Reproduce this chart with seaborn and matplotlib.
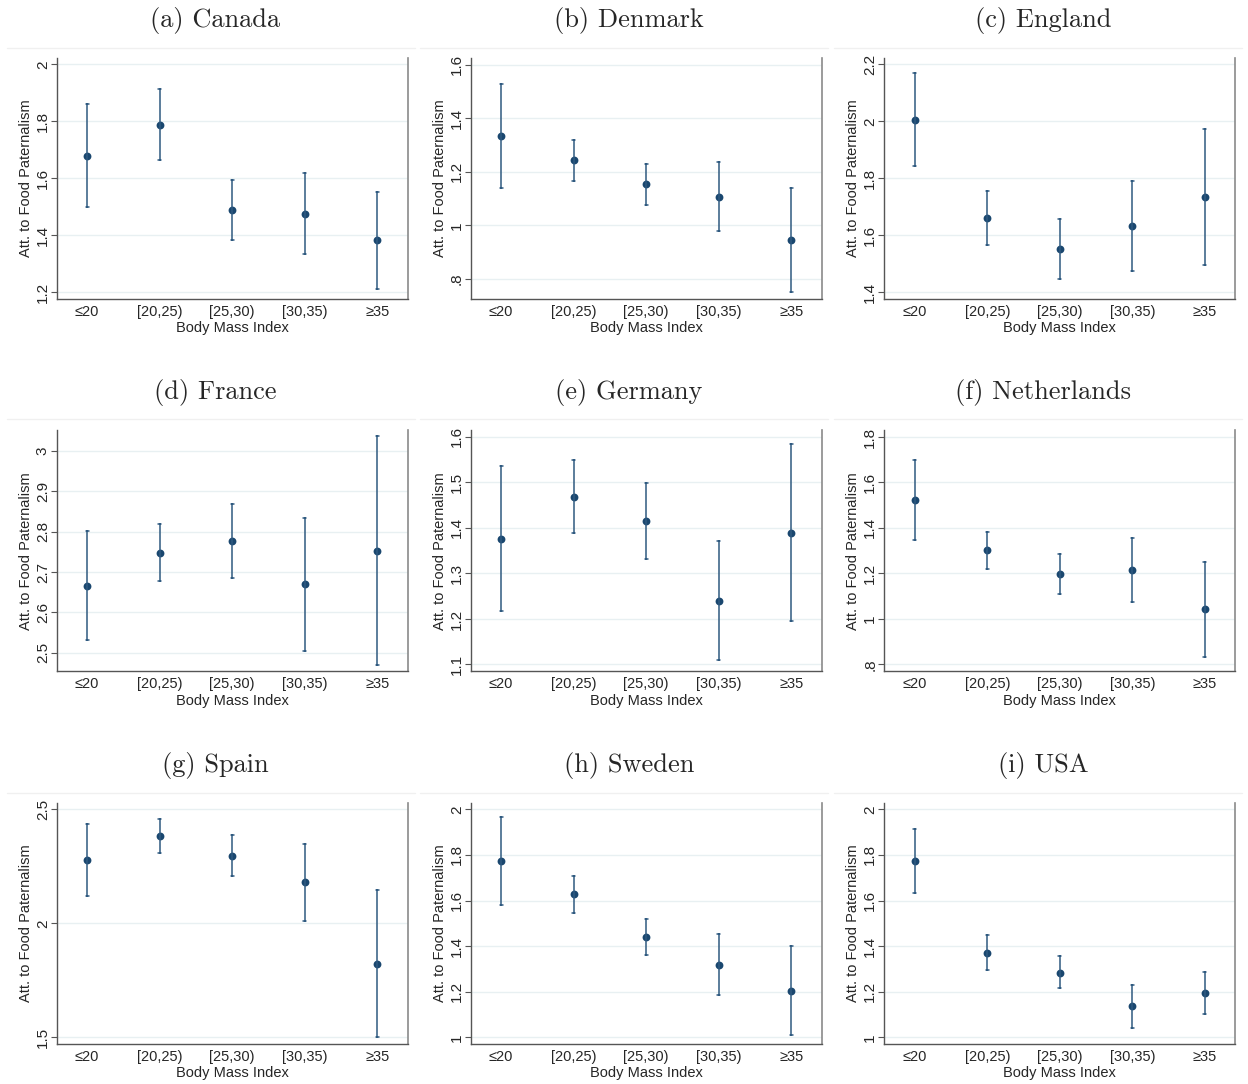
import numpy as np
import pandas as pd
import matplotlib
matplotlib.use("Agg")
import matplotlib.pyplot as plt
from matplotlib.lines import Line2D
import seaborn as sns

W, H = 1248, 1084

bmi_groups = ["≤20", "[20,25)", "[25,30)", "[30,35)", "≥35"]
titles = ["(a) Canada", "(b) Denmark", "(c) England", "(d) France", "(e) Germany",
          "(f) Netherlands", "(g) Spain", "(h) Sweden", "(i) USA"]

# point estimates
canada_mean = [1.680, 1.787, 1.488, 1.476, 1.384]
denmark_mean = [1.336, 1.245, 1.154, 1.107, 0.945]
england_mean = [2.006, 1.660, 1.552, 1.632, 1.735]
france_mean = [2.666, 2.748, 2.777, 2.670, 2.752]
germany_mean = [1.376, 1.468, 1.416, 1.240, 1.389]
netherlands_mean = [1.524, 1.302, 1.198, 1.214, 1.042]
spain_mean = [2.278, 2.383, 2.295, 2.180, 1.823]
sweden_mean = [1.773, 1.627, 1.439, 1.319, 1.205]
usa_mean = [1.773, 1.371, 1.284, 1.136, 1.194]

# confidence interval bounds
canada_lo = [1.498, 1.665, 1.384, 1.335, 1.213]
canada_hi = [1.861, 1.912, 1.593, 1.619, 1.552]
denmark_lo = [1.141, 1.166, 1.076, 0.979, 0.751]
denmark_hi = [1.528, 1.318, 1.230, 1.236, 1.139]
england_lo = [1.842, 1.566, 1.446, 1.474, 1.496]
england_hi = [2.168, 1.754, 1.658, 1.791, 1.973]
france_lo = [2.532, 2.677, 2.686, 2.505, 2.470]
france_hi = [2.801, 2.818, 2.869, 2.835, 3.036]
germany_lo = [1.217, 1.388, 1.332, 1.110, 1.195]
germany_hi = [1.536, 1.549, 1.499, 1.371, 1.584]
netherlands_lo = [1.349, 1.219, 1.110, 1.073, 0.832]
netherlands_hi = [1.697, 1.384, 1.286, 1.356, 1.250]
spain_lo = [2.118, 2.308, 2.206, 2.010, 1.503]
spain_hi = [2.437, 2.459, 2.387, 2.349, 2.145]
sweden_lo = [1.582, 1.547, 1.363, 1.184, 1.012]
sweden_hi = [1.965, 1.709, 1.518, 1.455, 1.399]
usa_lo = [1.635, 1.297, 1.215, 1.042, 1.101]
usa_hi = [1.912, 1.447, 1.355, 1.230, 1.285]

# y axis ticks / limits per panel
canada_ticks = [1.2, 1.4, 1.6, 1.8, 2.0]
denmark_ticks = [0.8, 1.0, 1.2, 1.4, 1.6]
england_ticks = [1.4, 1.6, 1.8, 2.0, 2.2]
france_ticks = [2.5, 2.6, 2.7, 2.8, 2.9, 3.0]
germany_ticks = [1.1, 1.2, 1.3, 1.4, 1.5, 1.6]
netherlands_ticks = [0.8, 1.0, 1.2, 1.4, 1.6, 1.8]
spain_ticks = [1.5, 2.0, 2.5]
sweden_ticks = [1.0, 1.2, 1.4, 1.6, 1.8, 2.0]
usa_ticks = [1.0, 1.2, 1.4, 1.6, 1.8, 2.0]

canada_ylim = (1.177, 2.023)
denmark_ylim = (0.725, 1.627)
england_ylim = (1.377, 2.223)
france_ylim = (2.454, 3.052)
germany_ylim = (1.085, 1.615)
netherlands_ylim = (0.769, 1.831)
spain_ylim = (1.471, 2.529)
sweden_ylim = (0.971, 2.029)
usa_ylim = (0.971, 2.029)

panels = [
    (canada_mean, canada_lo, canada_hi, canada_ticks, canada_ylim),
    (denmark_mean, denmark_lo, denmark_hi, denmark_ticks, denmark_ylim),
    (england_mean, england_lo, england_hi, england_ticks, england_ylim),
    (france_mean, france_lo, france_hi, france_ticks, france_ylim),
    (germany_mean, germany_lo, germany_hi, germany_ticks, germany_ylim),
    (netherlands_mean, netherlands_lo, netherlands_hi, netherlands_ticks, netherlands_ylim),
    (spain_mean, spain_lo, spain_hi, spain_ticks, spain_ylim),
    (sweden_mean, sweden_lo, sweden_hi, sweden_ticks, sweden_ylim),
    (usa_mean, usa_lo, usa_hi, usa_ticks, usa_ylim),
]

NAVY = "#1a476f"
GRID = "#e8f0f2"


def tick_fmt(v):
    s = ("%g" % round(v, 2))
    if s.startswith("0."):
        s = s[1:]
    return s


sns.set_style("white")
plt.rcParams["font.family"] = ["Liberation Sans", "DejaVu Sans"]

fig = plt.figure(figsize=(W / 100, H / 100), dpi=100)

col_left = [56.7, 470.7, 884.3]
col_width = 351.0
row_top = [57.7, 430.0, 802.7]
row_height = 241.3
title_y = [20.5, 393.0, 765.5]
title_x = [215, 629, 1043]
sep_y = [47.7, 419.3, 792.7]
col_start = [7, 420, 834]

for i, (mean, lo, hi, ticks, ylim) in enumerate(panels):
    r, c = divmod(i, 3)
    left = col_left[c] / W
    bottom = 1 - (row_top[r] + row_height) / H
    ax = fig.add_axes([left, bottom, col_width / W, row_height / H])

    # three rows per group: lower bound, estimate, upper bound
    df = pd.DataFrame({
        "bmi": np.repeat(bmi_groups, 3),
        "value": np.ravel(np.column_stack([lo, mean, hi])),
    })
    sns.pointplot(data=df, x="bmi", y="value", order=bmi_groups,
                  estimator="median", errorbar=("pi", 100),
                  color=NAVY, linestyle="none", markers="o", markersize=3.6,
                  capsize=0.04, err_kws={"linewidth": 1.1, "color": "#2f5a80"},
                  ax=ax)

    ax.set_xlim(-0.42, 4.42)
    ax.set_ylim(*ylim)
    ax.set_yticks(ticks)
    ax.set_yticklabels([tick_fmt(t) for t in ticks], rotation=90, va="center")
    ax.yaxis.grid(True, color=GRID, linewidth=1.0)
    ax.set_axisbelow(True)

    ax.tick_params(axis="y", length=4, width=0.8, color="#555555", pad=1,
                   labelsize=11, left=True)
    ax.tick_params(axis="x", length=0, pad=4, labelsize=10.5)

    for side in ["left", "bottom"]:
        ax.spines[side].set_color("#555555")
        ax.spines[side].set_linewidth(1.0)
    ax.spines["right"].set_color("#8a8a8a")
    ax.spines["right"].set_linewidth(1.2)
    ax.spines["top"].set_visible(False)

    ax.set_xlabel("Body Mass Index", fontsize=10.5, labelpad=2)
    ax.set_ylabel("Att. to Food Paternalism", fontsize=10.5)
    ax.yaxis.set_label_coords(-24.0 / col_width, 0.5)

    fig.text(title_x[c] / W, 1 - title_y[r] / H, titles[i], family="cmr10",
             fontsize=19, ha="center", va="center")
    fig.add_artist(Line2D([col_start[c] / W, (col_start[c] + 408) / W],
                          [1 - sep_y[r] / H, 1 - sep_y[r] / H],
                          color="#f0f0f0", linewidth=1.0))

fig.savefig("out.png", dpi=100)
